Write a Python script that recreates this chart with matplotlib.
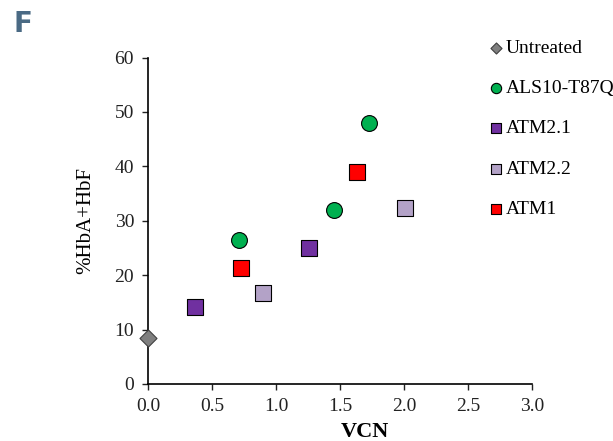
import matplotlib.pyplot as plt

# values
untreated_x = [0.0]
untreated_y = [8.5]
als10_x = [0.71, 1.45, 1.73]
als10_y = [26.4, 31.9, 47.9]
atm21_x = [0.37, 1.26]
atm21_y = [14.1, 25.0]
atm22_x = [0.90, 2.01]
atm22_y = [16.8, 32.4]
atm1_x = [0.73, 1.63]
atm1_y = [21.4, 38.9]

x_ticks = [0.0, 0.5, 1.0, 1.5, 2.0, 2.5, 3.0]
y_ticks = [0, 10, 20, 30, 40, 50, 60]

plt.rcParams['font.family'] = ['Liberation Serif', 'DejaVu Serif']

fig = plt.figure(figsize=(6.13, 4.41), dpi=100)
ax = fig.add_axes([148 / 613, 1 - 384 / 441, 384 / 613, 326.5 / 441])

ax.scatter(untreated_x, untreated_y, marker='D', s=75, c='#7f7f7f', edgecolors='#404040',
           linewidths=0.8, label='Untreated', zorder=3, clip_on=False)
ax.scatter(als10_x, als10_y, marker='o', s=130, c='#00b050', edgecolors='black',
           linewidths=0.8, label='ALS10-T87Q', zorder=3)
ax.scatter(atm21_x, atm21_y, marker='s', s=140, c='#7030a0', edgecolors='black',
           linewidths=0.8, label='ATM2.1', zorder=3)
ax.scatter(atm22_x, atm22_y, marker='s', s=140, c='#b3a2c7', edgecolors='black',
           linewidths=0.8, label='ATM2.2', zorder=3)
ax.scatter(atm1_x, atm1_y, marker='s', s=140, c='#ff0000', edgecolors='black',
           linewidths=0.8, label='ATM1', zorder=3)

ax.set_xlim(0, 3.0)
ax.set_ylim(0, 60)
ax.set_xticks(x_ticks)
ax.set_xticklabels(['%.1f' % t for t in x_ticks])
ax.set_yticks(y_ticks)
ax.tick_params(direction='out', length=4, width=1, labelsize=14, colors='#222222', pad=6)
for side in ['top', 'right']:
    ax.spines[side].set_visible(False)
for side in ['left', 'bottom']:
    ax.spines[side].set_linewidth(1.2)

ax.set_xlabel('VCN', fontsize=16, fontweight='bold')
ax.xaxis.set_label_coords(0.565, -0.115)
ax.set_ylabel('%HbA+HbF', fontsize=15)
ax.yaxis.set_label_coords(-0.138, 0.5)

leg = fig.legend(loc='upper left', bbox_to_anchor=(0.783, 0.928), frameon=False,
                 fontsize=14, handlelength=0.8, handletextpad=0.13, labelspacing=1.16,
                 markerscale=0.65, borderaxespad=0)

fig.text(0.022, 0.927, 'F', fontsize=20, fontweight='bold', color='#4a6a84',
         family=['DejaVu Sans'])

fig.savefig('out.png', dpi=100)
